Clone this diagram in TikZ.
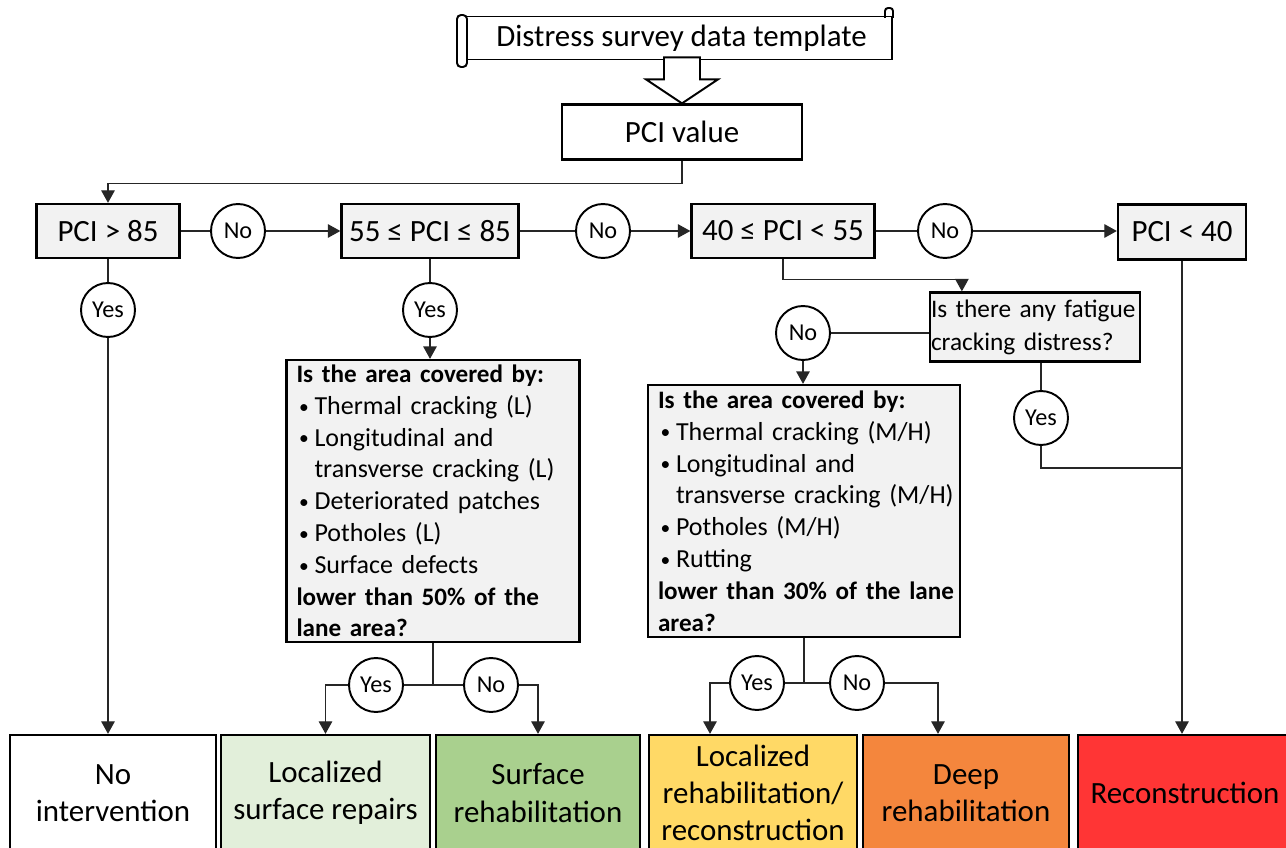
\documentclass[tikz,border=0pt]{standalone}
\usepackage{fontspec}
\setmainfont{Carlito}
\usepackage{xcolor}
\usetikzlibrary{arrows.meta,calc}

\definecolor{boxgray}{HTML}{F2F2F2}
\definecolor{lsrgreen}{HTML}{E2EFDA}
\definecolor{srhgreen}{HTML}{A9D08E}
\definecolor{lrryellow}{HTML}{FFD966}
\definecolor{drhorange}{HTML}{F4863D}
\definecolor{recred}{HTML}{FF3535}

\newcommand{\bl}[1]{\mbox{\makebox[0.36cm][l]{\hspace{0.05cm}\raisebox{0.1ex}{\scalebox{0.75}{\textbullet}}}#1}}
\newcommand{\nobl}[1]{\mbox{\makebox[0.36cm]{}#1}}
\newcommand{\hd}[1]{\mbox{\fontsize{14.3}{18.1}\selectfont\bfseries #1}}

\begin{document}
\begin{tikzpicture}[x=0.02cm, y=-0.02cm,
    conn/.style={line width=0.7pt, draw=black!85},
    arr/.style={conn, -{Triangle[width=0.27cm,length=0.25cm]}},
    cond/.style={draw, line width=1.3pt, fill=boxgray, inner sep=0pt, minimum height=1.08cm, font=\fontsize{17.6}{21}\selectfont},
    answer/.style={circle, draw, line width=1.1pt, fill=white, minimum size=1.08cm, inner sep=0pt, font=\fontsize{13.8}{15}\selectfont},
    query/.style={draw, line width=1.3pt, fill=boxgray, align=left, inner xsep=0.2cm, inner ysep=0pt, font=\fontsize{14.8}{18.1}\selectfont},
    action/.style={draw, line width=1.3pt, minimum height=2.32cm, inner sep=0pt, align=center, font=\fontsize{17.6}{21.2}\selectfont}]
    \useasboundingbox (0,0) rectangle (1286,848);
    \clip (0,0) rectangle (1286,848);

    % top: template and PCI value
    \node[draw, line width=1.1pt, minimum width=8.52cm, minimum height=0.86cm, inner sep=0pt, font=\fontsize{17.6}{21}\selectfont] (tmpl) at (679,38) {\hspace{0.1cm}Distress survey data template};
    \draw[line width=1.1pt, fill=white, rounded corners=0.08cm] (457,15) rectangle (467,67);
    \draw[line width=1.1pt, rounded corners=0.06cm] (885,18) -- (885,8) -- (893,8) -- (893,18);
    \node[draw, line width=1.3pt, minimum width=4.8cm, minimum height=1.1cm, inner sep=0pt, font=\fontsize{17.6}{21}\selectfont] (pci) at (682,132) {PCI value};
    \draw[line width=1.1pt, fill=white] (pci.north) -- ++(-36,-24) -- ++(18,0) -- ++(0,-22) -- ++(36,0) -- ++(0,22) -- ++(18,0) -- cycle;

    % PCI classes
    \node[cond, minimum width=2.86cm] (p85) at (108,231) {PCI > 85};
    \node[answer] (no1) at (238,231) {No};
    \node[cond, minimum width=3.54cm] (p55) at (430,231) {55 ≤ PCI ≤ 85};
    \node[answer] (no2) at (603,231) {No};
    \node[cond, minimum width=3.66cm] (p40) at (783,231) {40 ≤ PCI < 55};
    \node[answer] (no3) at (945,231) {No};
    \node[cond, minimum width=2.56cm, minimum height=1.1cm] (p0) at (1182,232) {PCI < 40};

    \node[answer] (yes1) at (108,310) {Yes};
    \node[answer] (yes2) at (430,310) {Yes};

    % questions
    \node[query, text width=5.46cm, minimum height=5.64cm] (q50) at (433,501) {\hd{Is the area covered by:}\\
        \bl{Thermal cracking (L)}\\
        \bl{Longitudinal and}\\
        \nobl{transverse cracking (L)}\\
        \bl{Deteriorated patches}\\
        \bl{Potholes (L)}\\
        \bl{Surface defects}\\
        \hd{lower than 50\% of the}\\
        \hd{lane area?}};
    \node[draw, line width=1.3pt, fill=boxgray, align=left, text width=4.16cm, minimum height=1.38cm, inner xsep=0.02cm, inner ysep=0pt, font=\fontsize{14.4}{18.8}\selectfont] (fat) at (1035,327) {\mbox{Is there any fatigue}\\\mbox{cracking distress?}};
    \node[answer] (no4) at (803,333) {No};
    \node[answer] (yes4) at (1041,418) {Yes};
    \node[query, text width=5.84cm, minimum height=5.04cm] (q30) at (804,511) {\hd{Is the area covered by:}\\
        \bl{Thermal cracking (M/H)}\\
        \bl{Longitudinal and}\\
        \nobl{transverse cracking (M/H)}\\
        \bl{Potholes (M/H)}\\
        \bl{Rutting}\\
        \hd{lower than 30\% of the lane}\\
        \hd{area?}};

    \node[answer] (yes5) at (376,685) {Yes};
    \node[answer] (no5) at (491,685) {No};
    \node[answer] (yes6) at (757,683) {Yes};
    \node[answer] (no6) at (857,683) {No};

    % interventions
    \node[action, minimum width=4.12cm, fill=white] (nint) at (113,793) {No\\intervention};
    \node[action, minimum width=4.18cm, fill=lsrgreen] (lsr) at (325.5,793) {Localized\\surface repairs};
    \node[action, minimum width=4.08cm, fill=srhgreen] (srh) at (538,793) {Surface\\rehabilitation};
    \node[action, minimum width=4.16cm, fill=lrryellow] (lrr) at (753,793) {Localized\\rehabilitation/\\reconstruction};
    \node[action, minimum width=4.12cm, fill=drhorange] (drh) at (966,793) {Deep\\rehabilitation};
    \node[action, minimum width=4.28cm, fill=recred] (rec) at (1185,793) {Reconstruction};

    % connectors
    \draw[arr] (pci.south) -- ++(0,23) -| (p85.north);
    \draw[conn] (p85) -- (no1);
    \draw[arr] (no1) -- (p55);
    \draw[conn] (p55) -- (no2);
    \draw[arr] (no2) -- (p40);
    \draw[conn] (p40) -- (no3);
    \draw[arr] (no3) -- (no3 -| p0.west);
    \draw[conn] (p85) -- (yes1);
    \draw[arr] (yes1) -- (yes1 |- nint.north);
    \draw[conn] (p55) -- (yes2);
    \draw[arr] (yes2) -- (yes2 |- q50.north);
    \draw[arr] (p40.south) -- ++(0,20) -| ($(fat.north west)+(33,0)$);
    \draw[conn] (fat.west |- no4) -- (no4);
    \draw[arr] (no4) -- (no4 |- q30.north);
    \draw[conn] (yes4 |- fat.south) -- (yes4);
    \draw[conn] (yes4.south) -- ++(0,22) coordinate (y4b) -- (y4b -| p0.south);
    \draw[arr] (p0.south) -- (p0.south |- rec.north);
    \draw[conn] (yes5) -| (q50.south);
    \draw[conn] (no5) -| (q50.south);
    \draw[arr] (yes5) -| (lsr.north);
    \draw[arr] (no5) -| (srh.north);
    \draw[conn] (yes6) -| (q30.south);
    \draw[conn] (no6) -| (q30.south);
    \draw[arr] (yes6) -| ($(lrr.north)+(-43,0)$);
    \draw[arr] (no6) -| ($(drh.north)+(-28,0)$);
\end{tikzpicture}
\end{document}
